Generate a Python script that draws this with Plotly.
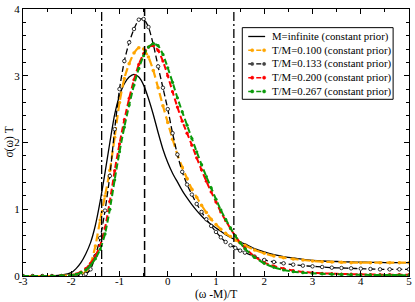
import plotly.graph_objects as go

# ---------------- data ----------------
x_vals = [-3.0, -2.8, -2.6, -2.4, -2.2, -2.0, -1.9, -1.8, -1.7, -1.6, -1.5, -1.4, -1.3, -1.2, -1.1,
          -1.0, -0.9, -0.8, -0.7, -0.6, -0.5, -0.4, -0.3, -0.2, -0.1, 0.0, 0.1, 0.2, 0.3, 0.4,
          0.5, 0.6, 0.7, 0.8, 0.9, 1.0, 1.1, 1.2, 1.3, 1.4, 1.5, 1.6, 1.8, 2.0, 2.2, 2.4, 2.6,
          2.8, 3.0, 3.2, 3.4, 3.6, 3.8, 4.0, 4.2, 4.4, 4.6, 4.8, 5.0]

m_infinite = [0.0, 0.0, 0.0, 0.003, 0.015, 0.05, 0.11, 0.2, 0.33, 0.5, 0.76, 1.12, 1.55, 2.0, 2.42,
              2.7, 2.88, 2.98, 3.02, 2.98, 2.86, 2.66, 2.42, 2.15, 1.9, 1.7, 1.54, 1.41, 1.28, 1.17,
              1.07, 0.98, 0.9, 0.83, 0.77, 0.72, 0.67, 0.62, 0.58, 0.54, 0.51, 0.48, 0.41, 0.36, 0.32,
              0.29, 0.27, 0.25, 0.235, 0.225, 0.22, 0.215, 0.21, 0.207, 0.205, 0.203, 0.2, 0.2, 0.2]

tm_100 = [0.0, 0.0, 0.0, 0.0, 0.005, 0.01, 0.02, 0.03, 0.06, 0.18, 0.45, 0.84, 1.2, 1.58, 2.08,
          2.6, 2.96, 3.18, 3.34, 3.42, 3.4, 3.28, 3.08, 2.82, 2.55, 2.3, 2.05, 1.82, 1.63, 1.46,
          1.3, 1.18, 1.06, 0.95, 0.85, 0.77, 0.7, 0.64, 0.59, 0.54, 0.5, 0.46, 0.39, 0.34, 0.3,
          0.275, 0.255, 0.24, 0.225, 0.215, 0.21, 0.205, 0.2, 0.2, 0.2, 0.2, 0.2, 0.2, 0.2]

tm_133 = [0.0, 0.0, 0.0, 0.0, 0.0, 0.0, 0.005, 0.01, 0.03, 0.1, 0.3, 0.57, 0.98, 1.5, 2.2,
          2.8, 3.22, 3.5, 3.7, 3.84, 3.85, 3.73, 3.47, 3.14, 2.82, 2.5, 2.14, 1.82, 1.56, 1.37,
          1.22, 1.08, 0.96, 0.85, 0.75, 0.66, 0.58, 0.51, 0.46, 0.42, 0.38, 0.35, 0.29, 0.24, 0.21,
          0.19, 0.17, 0.155, 0.145, 0.135, 0.125, 0.12, 0.115, 0.11, 0.105, 0.1, 0.1, 0.1, 0.1]

tm_200 = [0.0, 0.0, 0.0, 0.0, 0.005, 0.015, 0.03, 0.06, 0.11, 0.19, 0.3, 0.46, 0.72, 1.12, 1.58,
          1.98, 2.34, 2.66, 2.94, 3.17, 3.33, 3.43, 3.45, 3.38, 3.22, 3.0, 2.76, 2.53, 2.32, 2.14,
          1.96, 1.77, 1.59, 1.42, 1.26, 1.11, 0.96, 0.83, 0.71, 0.6, 0.5, 0.42, 0.29, 0.2, 0.15,
          0.11, 0.08, 0.06, 0.05, 0.04, 0.035, 0.03, 0.028, 0.025, 0.022, 0.02, 0.02, 0.02, 0.02]

tm_267 = [0.0, 0.0, 0.0, 0.0, 0.005, 0.012, 0.025, 0.05, 0.09, 0.16, 0.26, 0.4, 0.63, 1.0, 1.44,
          1.86, 2.23, 2.56, 2.86, 3.11, 3.3, 3.43, 3.48, 3.45, 3.32, 3.12, 2.9, 2.67, 2.46, 2.26,
          2.06, 1.86, 1.67, 1.49, 1.32, 1.15, 0.99, 0.85, 0.72, 0.6, 0.5, 0.41, 0.28, 0.19, 0.13,
          0.09, 0.065, 0.05, 0.04, 0.032, 0.027, 0.023, 0.02, 0.018, 0.016, 0.015, 0.014, 0.013, 0.012]

series_names = ["M=infinite (constant prior)", "T/M=0.100 (constant prior)",
                "T/M=0.133 (constant prior)", "T/M=0.200 (constant prior)",
                "T/M=0.267 (constant prior)"]

dashdot_lines_x = [-1.37, 1.37]
dashed_lines_x = [-0.48]

x_ticks = [-3, -2, -1, 0, 1, 2, 3, 4, 5]
x_ticktext = ["-3", "-2", "-1", "0", "1", "2", "3", "4", "5"]
y_ticks = [0, 1, 2, 3, 4]

# ---------------- styles ----------------
styles = [
    dict(color="black", width=1.3, dash="solid", marker=None),
    dict(color="#FFA500", width=2.2, dash="8px,4px",
         marker=dict(symbol="circle", size=3.5, color="#FFA500")),
    dict(color="black", width=1.3, dash="6px,3px",
         marker=dict(symbol="circle", size=3.5, color="white", line=dict(color="black", width=0.8))),
    dict(color="#FF0000", width=2.0, dash="6px,3px",
         marker=dict(symbol="circle", size=3.2, color="#FF0000")),
    dict(color="#0A9A0A", width=2.0, dash="6px,3px",
         marker=dict(symbol="circle", size=3.2, color="#0A9A0A")),
]
series = [m_infinite, tm_100, tm_133, tm_200, tm_267]

fig = go.Figure()
for name, ys, st in zip(series_names, series, styles):
    kw = dict(x=x_vals, y=ys, name=name, showlegend=False,
              line=dict(color=st["color"], width=st["width"], dash=st["dash"], shape="spline", smoothing=0.6))
    if st["marker"] is None:
        kw["mode"] = "lines"
    else:
        kw["mode"] = "lines+markers"
        kw["marker"] = st["marker"]
    fig.add_trace(go.Scatter(**kw))

shapes = []
for xv in dashdot_lines_x:
    shapes.append(dict(type="line", xref="x", yref="paper", x0=xv, x1=xv, y0=0, y1=1,
                       line=dict(color="black", width=1.3, dash="9px,3px,2px,3px")))
for xv in dashed_lines_x:
    shapes.append(dict(type="line", xref="x", yref="paper", x0=xv, x1=xv, y0=0, y1=1,
                       line=dict(color="black", width=1.5, dash="9px,4px")))

# ---------------- manual legend (paper coords) ----------------
L, R, T, B = 23, 412, 4, 276  # plot area px
def px_x(p):
    return (p - L) / (R - L)
def px_y(p):
    return (B - p) / (B - T)

shapes.append(dict(type="rect", xref="paper", yref="paper",
                   x0=px_x(244), x1=px_x(396), y0=px_y(23), y1=px_y(96),
                   line=dict(color="black", width=1), fillcolor="white", layer="above"))
annotations = []
row_y = [32, 46, 60, 74, 88]
for i, (name, st) in enumerate(zip(series_names, styles)):
    yy = px_y(row_y[i])
    shapes.append(dict(type="line", xref="paper", yref="paper", x0=px_x(250), x1=px_x(267),
                       y0=yy, y1=yy, layer="above",
                       line=dict(color=st["color"], width=min(st["width"], 1.6),
                                 dash="solid" if i == 0 else "5px,3px")))
    if st["marker"] is not None:
        mc = st["marker"]["color"] if i != 2 else "#444444"
        for mx in (254, 266):
            shapes.append(dict(type="circle", xref="paper", yref="paper",
                               xsizemode="pixel", ysizemode="pixel",
                               xanchor=px_x(mx), yanchor=yy, x0=-1.6, x1=1.6, y0=-1.6, y1=1.6,
                               fillcolor=mc, line=dict(color=mc, width=0.5), layer="above"))
    annotations.append(dict(xref="paper", yref="paper", x=px_x(272), y=yy, text=name,
                            showarrow=False, xanchor="left", yanchor="middle",
                            font=dict(family="Liberation Serif", size=10.8, color="black")))

annotations.append(dict(xref="paper", yref="paper", x=0.5, y=px_y(295), text="(ω -M)/T",
                        showarrow=False, xanchor="center", yanchor="middle",
                        font=dict(family="Liberation Serif", size=11.5, color="black")))
annotations.append(dict(xref="paper", yref="paper", x=px_x(9), y=0.5, text="σ(ω) T",
                        showarrow=False, xanchor="center", yanchor="middle", textangle=-90,
                        font=dict(family="Liberation Serif", size=11.5, color="black")))

axis_common = dict(showline=True, linecolor="black", linewidth=1, mirror="allticks",
                   ticks="inside", ticklen=5, tickwidth=1, tickcolor="black",
                   showgrid=False, zeroline=False, ticklabeloverflow="allow",
                   tickfont=dict(family="Liberation Serif", size=11, color="black"))

fig.update_layout(
    width=415, height=302,
    margin=dict(l=L, r=415 - R, t=T, b=302 - B),
    plot_bgcolor="white", paper_bgcolor="white",
    showlegend=False,
    shapes=shapes, annotations=annotations,
    xaxis=dict(range=[-3, 5], tickmode="array", tickvals=x_ticks, ticktext=x_ticktext,
               ticklabelstandoff=-5,
               minor=dict(ticks="inside", ticklen=3, dtick=0.5, tick0=-3, tickcolor="black"),
               **axis_common),
    yaxis=dict(range=[0, 4], tickmode="array", tickvals=y_ticks,
               minor=dict(ticks="inside", ticklen=3, dtick=0.2, tick0=0, tickcolor="black"),
               **axis_common),
)

fig.write_html("out.html", config={"displayModeBar": False},
               post_script="document.body.style.margin='0';")
